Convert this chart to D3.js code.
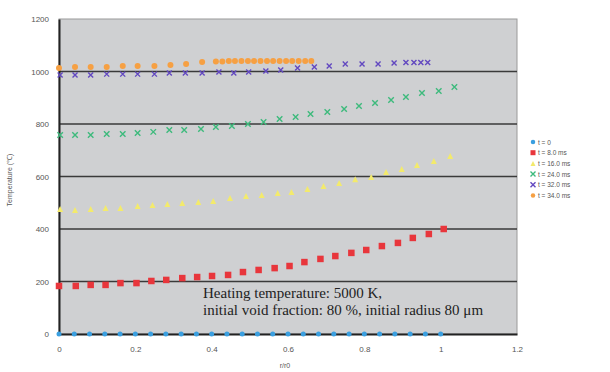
<!DOCTYPE html>
<html><head><meta charset="utf-8">
<script src="https://cdn.jsdelivr.net/npm/d3@7"></script>
<style>body{margin:0;background:#fff;}svg{display:block;}</style>
</head><body>
<script>
const yTicks = [0, 200, 400, 600, 800, 1000, 1200];
const xTicks = [0, 0.2, 0.4, 0.6, 0.8, 1, 1.2];
const xTickLabels = ["0", "0.2", "0.4", "0.6", "0.8", "1", "1.2"];
const seriesNames = ["t = 0", "t = 8.0 ms", "t = 16.0 ms", "t = 24.0 ms", "t = 32.0 ms", "t = 34.0 ms"];

const x0 = [0,0.04,0.08,0.12,0.16,0.2,0.24,0.28,0.32,0.36,0.4,0.44,0.48,0.52,0.56,0.6,0.64,0.68,0.72,0.76,0.8,0.84,0.88,0.92,0.96,1.0];
const t0 = [0,0,0,0,0,0,0,0,0,0,0,0,0,0,0,0,0,0,0,0,0,0,0,0,0,0];

const x8 = [0,0.044,0.083,0.122,0.161,0.203,0.242,0.281,0.323,0.362,0.401,0.443,0.482,0.523,0.565,0.604,0.643,0.685,0.724,0.766,0.805,0.846,0.888,0.927,0.969,1.008];
const t8 = [183,183,187,187,194,194,202,206,213,217,221,225,236,244,251,259,274,286,297,309,320,335,347,366,381,400];

const x16 = [0.003,0.042,0.083,0.122,0.161,0.206,0.245,0.284,0.323,0.365,0.404,0.448,0.490,0.531,0.573,0.609,0.651,0.693,0.734,0.776,0.818,0.857,0.898,0.938,0.982,1.025];
const t16 = [476,472,476,480,480,488,491,495,499,503,507,518,526,530,537,541,552,564,575,590,598,617,629,644,659,678];

const x24 = [0.003,0.042,0.083,0.125,0.167,0.206,0.247,0.289,0.328,0.372,0.411,0.453,0.495,0.536,0.578,0.620,0.659,0.703,0.747,0.786,0.828,0.870,0.909,0.951,0.995,1.036];
const t24 = [758,758,758,762,762,766,770,777,777,781,789,792,800,808,819,827,838,846,857,869,880,891,903,918,926,941];

const x32 = [0.003,0.042,0.083,0.125,0.167,0.206,0.250,0.289,0.331,0.375,0.419,0.458,0.497,0.542,0.581,0.625,0.669,0.708,0.750,0.794,0.836,0.878,0.909,0.930,0.948,0.966];
const t32 = [987,987,987,990,990,990,990,994,994,994,998,994,998,1002,1006,1013,1017,1021,1029,1029,1029,1032,1034,1034,1034,1034];

const x34 = [0,0.042,0.083,0.125,0.167,0.206,0.250,0.292,0.333,0.375,0.411,0.428,0.445,0.461,0.478,0.495,0.511,0.528,0.545,0.561,0.578,0.595,0.611,0.628,0.645,0.661];
const t34 = [1013,1017,1017,1017,1021,1021,1021,1025,1029,1036,1038,1038,1040,1040,1040,1040,1040,1040,1040,1040,1040,1040,1040,1040,1040,1040];

const colors = ["#3a9fe0", "#e8363c", "#f3ea6c", "#3dba7c", "#6248c0", "#f6a043"];
const shapes = ["circle", "square", "triangle", "x", "x", "circle"];
const series = [[x0,t0],[x8,t8],[x16,t16],[x24,t24],[x32,t32],[x34,t34]];

const W = 610, H = 372;
const L = 59, R = 517, T = 19, B = 334;
const svg = d3.select("body").append("svg").attr("width", W).attr("height", H);
const xS = d3.scaleLinear().domain([0, 1.2]).range([L, R]);
const yS = d3.scaleLinear().domain([0, 1200]).range([B, T]);

svg.append("rect").attr("x", L).attr("y", T).attr("width", R - L).attr("height", B - T)
  .attr("fill", "#cfd0d2").attr("stroke", "#9a9a9a").attr("stroke-width", 1);

// gridlines
svg.append("g").selectAll("line").data(yTicks.filter(d => d > 0 && d < 1200)).join("line")
  .attr("x1", L).attr("x2", R).attr("y1", d => yS(d)).attr("y2", d => yS(d))
  .attr("stroke", "#3a3a3a").attr("stroke-width", 1.5);

// axes
const yAxis = d3.axisLeft(yS).tickValues(yTicks).tickSize(0).tickPadding(10).tickFormat(d3.format("d"));
const gy = svg.append("g").attr("transform", `translate(${L},0)`).call(yAxis);
gy.select(".domain").attr("stroke", "#222").attr("stroke-width", 2);
gy.selectAll("text").attr("font-family", "Arial, Liberation Sans, sans-serif").attr("font-size", 8).attr("fill", "#555");

const xAxis = d3.axisBottom(xS).tickValues(xTicks).tickSize(0).tickPadding(12).tickFormat((d, i) => xTickLabels[i]);
const gx = svg.append("g").attr("transform", `translate(0,${B})`).call(xAxis);
gx.select(".domain").attr("stroke", "#222").attr("stroke-width", 2);
gx.selectAll("text").attr("font-family", "Arial, Liberation Sans, sans-serif").attr("font-size", 8).attr("fill", "#555");

svg.append("text").attr("x", 285).attr("y", 368).attr("text-anchor", "middle")
  .attr("font-family", "Arial, Liberation Sans, sans-serif").attr("font-size", 7).attr("fill", "#555").text("r/r0");
svg.append("text").attr("transform", "translate(12,180) rotate(-90)").attr("text-anchor", "middle")
  .attr("font-family", "Arial, Liberation Sans, sans-serif").attr("font-size", 7).attr("fill", "#555").text("Temperature (℃)");

function drawMarker(g, shape, color, cx, cy, s) {
  if (shape === "circle") {
    g.append("circle").attr("cx", cx).attr("cy", cy).attr("r", s / 2).attr("fill", color);
  } else if (shape === "square") {
    g.append("rect").attr("x", cx - s / 2).attr("y", cy - s / 2).attr("width", s).attr("height", s).attr("fill", color);
  } else if (shape === "triangle") {
    g.append("path").attr("d", `M${cx},${cy - s / 2}L${cx + s / 2},${cy + s / 2}L${cx - s / 2},${cy + s / 2}Z`).attr("fill", color);
  } else {
    const h = s / 2;
    g.append("path").attr("d", `M${cx - h},${cy - h}L${cx + h},${cy + h}M${cx + h},${cy - h}L${cx - h},${cy + h}`)
      .attr("stroke", color).attr("stroke-width", 1.4).attr("fill", "none");
  }
}
const sizes = [5, 6.5, 6, 5.5, 5, 6];
series.forEach((s, k) => {
  const g = svg.append("g");
  s[0].forEach((xv, i) => drawMarker(g, shapes[k], colors[k], xS(xv), yS(s[1][i]), sizes[k]));
});

// annotation
const ann = svg.append("text").attr("font-family", "Liberation Serif, Times New Roman, serif").attr("font-size", 15).attr("fill", "#222")
  .attr("textLength", null);
ann.append("tspan").attr("x", 203).attr("y", 298).text("Heating temperature: 5000 K,");
ann.append("tspan").attr("x", 203).attr("y", 315).text("initial void fraction: 80 %, initial radius 80 μm");

// legend
const leg = svg.append("g");
seriesNames.forEach((n, i) => {
  const y = 142 + i * 10.7;
  drawMarker(leg, shapes[i], colors[i], 533, y, shapes[i] === "circle" ? 4.5 : 5);
  leg.append("text").attr("x", 538).attr("y", y + 2.5).attr("font-family", "Arial, Liberation Sans, sans-serif")
    .attr("font-size", 6.5).attr("fill", "#555").text(n);
});
</script>
</body></html>
